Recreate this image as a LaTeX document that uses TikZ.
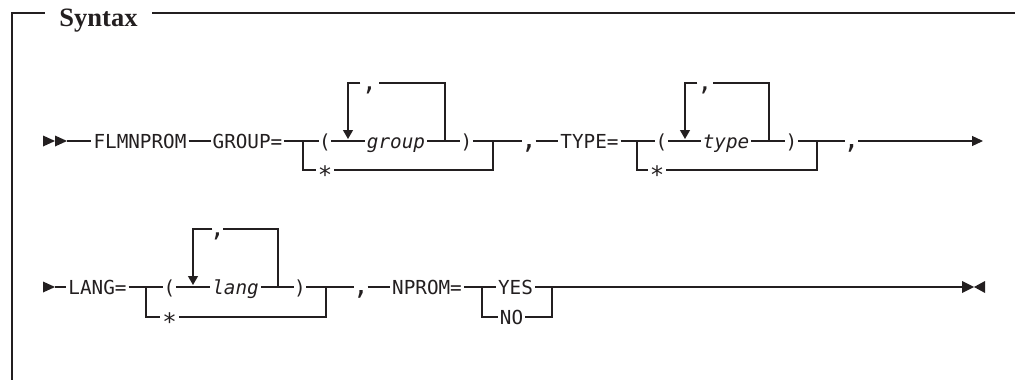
\documentclass[tikz,border=0pt]{standalone}
\usepackage{fontspec}
\setmainfont{Liberation Serif}
\newfontfamily\rrmono{DejaVu Sans Mono}[ItalicFont={DejaVu Sans Mono Oblique}]
\usetikzlibrary{arrows.meta}
\definecolor{ink}{RGB}{35,31,32}
\newcommand\rrcomma[2]{\makebox[#1]{\fontsize{#2}{#2}\selectfont,}}
\newcommand\rrstar{\raisebox{-6.7pt}{\fontsize{24}{24}\selectfont *}}
\begin{document}
\begin{tikzpicture}[x=1pt,y=-1pt, line width=1.2pt, color=ink,
  kw/.style={font=\rrmono\fontsize{19.3}{20}\selectfont, text=ink, inner xsep=1.5pt, inner ysep=0pt, text height=14pt, text depth=0pt},
  var/.style={kw, font=\rrmono\itshape\fontsize{19.3}{20}\selectfont},
  paren/.style={kw, inner xsep=0pt},
  commanode/.style={kw, inner xsep=0pt},
  endtip/.style={-{Triangle[length=11pt,width=10pt]}},
  downtip/.style={-{Triangle[length=9pt,width=10pt]}}]
\useasboundingbox (0,0) rectangle (1015,380);
% frame
\node[font=\bfseries\fontsize{26.5}{28}\selectfont, text=ink, inner xsep=14pt, inner ysep=0pt, text height=17.5pt, text depth=0pt, anchor=base] (title) at (98.5,27) {Syntax};
\coordinate (ftl) at (12,13);
\coordinate (fbl) at (12,380);
\coordinate (ftr) at (1015,13);
\draw (title.west |- ftl) -- (ftl) -- (fbl);
\draw (title.east |- ftl) -- (ftr);
% ---------- line 1
\fill (43,135.5) -- (55,141) -- (43,146.5) -- cycle;
\fill (55,135.5) -- (67,141) -- (55,146.5) -- cycle;
\coordinate (s1) at (67,141);
\node[kw] (flm) at (140,141) {FLMNPROM};
\node[kw] (grp) at (247.5,141) {GROUP=};
\coordinate (b1) at (303,141);
\node[paren] (lp1) at (325,141) {(};
\node[var] (gv) at (396,141) {group};
\node[paren] (rp1) at (466.5,141) {)};
\node[kw] (st1) at (325,170) {\rrstar};
\coordinate (m1) at (493,141);
\node[commanode] (cc1) at (369.5,83) {\rrcomma{17pt}{25}};
\coordinate (j1) at (445,141);
\coordinate (a1) at (348,139);
\node[commanode] (cm1) at (529,141) {\rrcomma{12pt}{27}};
\node[kw] (typ) at (589.5,141) {TYPE=};
\coordinate (b2) at (637,141);
\node[paren] (lp2) at (661.5,141) {(};
\node[var] (tv) at (726,141) {type};
\node[paren] (rp2) at (791.5,141) {)};
\node[kw] (st2) at (657,170) {\rrstar};
\coordinate (m2) at (817,141);
\node[commanode] (cc2) at (705,83) {\rrcomma{14pt}{25}};
\coordinate (j2) at (769,141);
\coordinate (a2) at (685,139);
\node[commanode] (cm2) at (851.5,141) {\rrcomma{12pt}{27}};
\coordinate (e1) at (983,141);
\draw (s1) -- (flm.west);
\draw (flm.east) -- (grp.west);
\draw (grp.east) -- (lp1.west);
\draw (lp1.east) -- (gv.west);
\draw (gv.east) -- (rp1.west);
\draw (rp1.east) -- (cm1.west);
\draw (b1) |- (st1.west);
\draw (st1.east) -| (m1);
\draw (j1) |- (cc1.east);
\draw[downtip] (cc1.west) -| (a1);
\draw (cm1.east) -- (typ.west);
\draw (typ.east) -- (lp2.west);
\draw (lp2.east) -- (tv.west);
\draw (tv.east) -- (rp2.west);
\draw (rp2.east) -- (cm2.west);
\draw (b2) |- (st2.west);
\draw (st2.east) -| (m2);
\draw (j2) |- (cc2.east);
\draw[downtip] (cc2.west) -| (a2);
\draw[endtip] (cm2.east) -- (e1);
% ---------- line 2
\fill (43,281.5) -- (55,287) -- (43,292.5) -- cycle;
\coordinate (s2) at (55,287);
\node[kw] (lng) at (97.5,287) {LANG=};
\coordinate (b3) at (146,287);
\node[paren] (lp3) at (169.5,287) {(};
\node[var] (lv) at (235.5,287) {lang};
\node[paren] (rp3) at (300,287) {)};
\node[kw] (st3) at (169.5,317) {\rrstar};
\coordinate (m3) at (326,287);
\node[commanode] (cc3) at (217.5,229) {\rrcomma{9pt}{25}};
\coordinate (j3) at (278,287);
\coordinate (a3) at (193,285);
\node[commanode] (cm3) at (361,287) {\rrcomma{12pt}{27}};
\node[kw] (npr) at (427,287) {NPROM=};
\coordinate (b4) at (482,287);
\node[kw] (yes) at (515.5,287) {YES};
\node[kw] (no) at (511.5,317) {NO};
\coordinate (m4) at (552,287);
\coordinate (e2) at (962,287);
\fill (962,281) -- (974,287) -- (962,293) -- cycle;
\fill (985,281) -- (974,287) -- (985,293) -- cycle;
\draw (s2) -- (lng.west);
\draw (lng.east) -- (lp3.west);
\draw (lp3.east) -- (lv.west);
\draw (lv.east) -- (rp3.west);
\draw (rp3.east) -- (cm3.west);
\draw (b3) |- (st3.west);
\draw (st3.east) -| (m3);
\draw (j3) |- (cc3.east);
\draw[downtip] (cc3.west) -| (a3);
\draw (cm3.east) -- (npr.west);
\draw (npr.east) -- (yes.west);
\draw (b4) |- (no.west);
\draw (no.east) -| (m4);
\draw (yes.east) -- (e2);
\end{tikzpicture}
\end{document}
